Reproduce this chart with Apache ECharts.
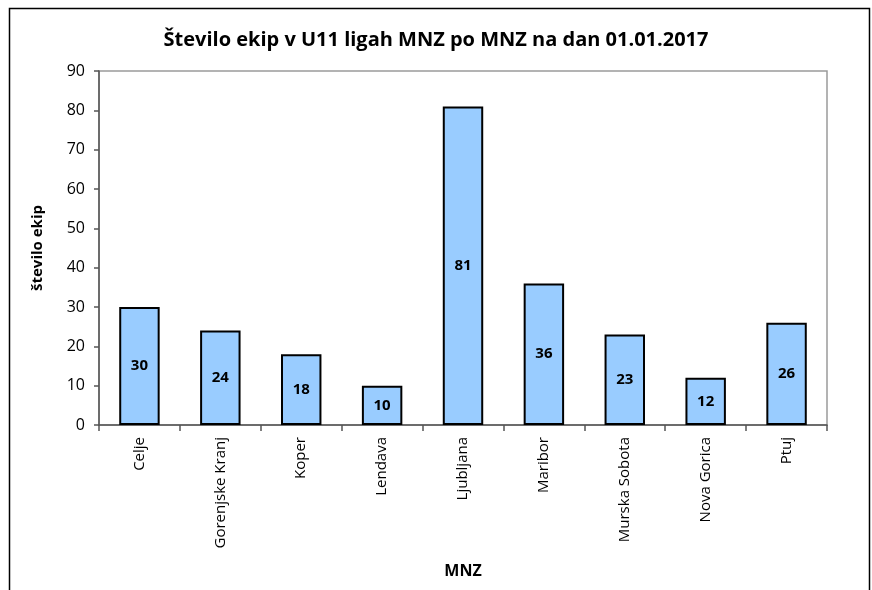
<!DOCTYPE html>
<html>
<head>
<meta charset="utf-8">
<script src="https://cdn.jsdelivr.net/npm/echarts@6/dist/echarts.min.js"></script>
<style>
  html, body { margin: 0; padding: 0; background: #fff; }
  #chart { width: 872px; height: 590px; }
</style>
</head>
<body>
<div id="chart"></div>
<script>
// podatki
const categories = ['Celje', 'Gorenjske Kranj', 'Koper', 'Lendava', 'Ljubljana', 'Maribor', 'Murska Sobota', 'Nova Gorica', 'Ptuj'];
const ekipe = [30, 24, 18, 10, 81, 36, 23, 12, 26];
const titleText = 'Število ekip v U11 ligah MNZ po MNZ na dan 01.01.2017';

const font = '"Open Sans", Lato, sans-serif';
const myChart = echarts.init(document.getElementById('chart'));

myChart.setOption({
  animation: false,
  textStyle: { fontFamily: font },
  title: {
    text: titleText,
    left: 'center',
    top: 25,
    textStyle: { fontSize: 20, fontWeight: 'bold', color: '#000', fontFamily: font }
  },
  // okvir okoli celotnega grafikona
  graphic: [{
    type: 'rect',
    shape: { x: 9.5, y: 8.5, width: 860, height: 620 },
    style: { fill: 'none', stroke: '#000', lineWidth: 1.5 },
    silent: true
  }],
  grid: {
    left: 99, right: 45, top: 71, bottom: 165,
    show: true,
    borderColor: '#9a9a9a',
    borderWidth: 1.5
  },
  xAxis: {
    type: 'category',
    data: categories,
    name: 'MNZ',
    nameLocation: 'middle',
    nameGap: 138,
    nameTextStyle: { fontSize: 16, fontWeight: 'bold', color: '#000' },
    axisLine: { lineStyle: { color: '#555', width: 1.5 } },
    axisTick: { show: true, alignWithLabel: false, length: 6, lineStyle: { color: '#555', width: 1.5 } },
    axisLabel: { rotate: 90, fontSize: 15, color: '#000', margin: 12 },
    splitLine: { show: false }
  },
  yAxis: {
    type: 'value',
    min: 0, max: 90, interval: 10,
    name: 'število ekip',
    nameLocation: 'middle',
    nameGap: 54,
    nameTextStyle: { fontSize: 15, fontWeight: 'bold', color: '#000' },
    axisLine: { show: true, lineStyle: { color: '#555', width: 1.5 } },
    axisTick: { show: true, length: 5, lineStyle: { color: '#555', width: 1.5 } },
    axisLabel: { fontSize: 16, color: '#000', margin: 14 },
    splitLine: { show: false }
  },
  series: [{
    type: 'bar',
    data: ekipe,
    barWidth: '50%',
    itemStyle: { color: '#99ccff', borderColor: '#000', borderWidth: 2 },
    label: {
      show: true,
      position: 'inside',
      fontSize: 15,
      fontWeight: 'bold',
      color: '#000'
    }
  }]
});
</script>
</body>
</html>
